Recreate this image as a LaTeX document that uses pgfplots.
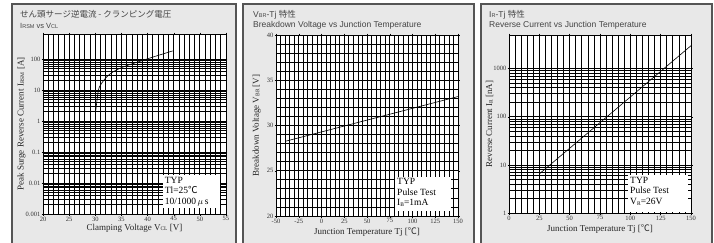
\documentclass[border=0pt]{standalone}
\usepackage{fontspec}
\setmainfont{Liberation Serif}
\newfontfamily\cjk{Noto Sans CJK JP}
\newfontfamily\sans{Liberation Sans}
\usepackage{pgfplots}
\pgfplotsset{compat=1.18}
\definecolor{panelgray}{HTML}{E8E8E8}
\definecolor{bordergray}{HTML}{555555}
\definecolor{titlegray}{HTML}{444444}
\newcommand\sub[1]{\raisebox{-0.15ex}{\fontsize{5.5}{5.5}\selectfont #1}}
\pgfplotsset{chart/.style={scale only axis, anchor=south west,
  axis background/.style={fill=white},
  grid=both,
  major grid style={black,line width=0.75pt},
  minor grid style={black,line width=0.75pt},
  axis line style={black,line width=0.9pt},
  tick align=outside, major tick length=1.5pt, minor tick length=0pt,
  tick style={black,line width=0.4pt},
  ticklabel style={font=\fontsize{6.5}{6.5}\selectfont, text=black!80, inner sep=1pt},
  label style={font=\fontsize{9}{9}\selectfont, text=black!85},
  /pgf/number format/assume math mode=true,
  every axis y label/.append style={anchor=center},
  every axis x label/.append style={anchor=center},
}}
\begin{document}
\begin{tikzpicture}
\useasboundingbox (0pt,0pt) rectangle (714pt,242pt);
\fill[white] (0pt,0pt) rectangle (714pt,242pt);
\foreach \a/\b in {12/236,243/474,481/712} {
  \draw[fill=panelgray, draw=bordergray, line width=1.2pt] (\a pt,-5pt) rectangle (\b pt,238pt);
}
% titles
\node[anchor=base west, inner sep=0, text=titlegray, font=\cjk\fontsize{8.5}{9}\selectfont] at (20pt,225pt) {せん頭サージ逆電流 - クランピング電圧};
\node[anchor=base west, inner sep=0, text=titlegray, font=\sans\fontsize{7.5}{8}\selectfont] at (20pt,214pt) {I\sub{RSM} vs V\sub{CL}};
\node[anchor=base west, inner sep=0, text=titlegray, font=\sans\fontsize{8.5}{9}\selectfont] at (253pt,225pt) {V\sub{BR}-Tj {\cjk 特性}};
\node[anchor=base west, inner sep=0, text=titlegray, font=\sans\fontsize{8.5}{9}\selectfont] at (253pt,215pt) {Breakdown Voltage vs Junction Temperature};
\node[anchor=base west, inner sep=0, text=titlegray, font=\sans\fontsize{8.5}{9}\selectfont] at (489pt,225pt) {I\sub{R}-Tj {\cjk 特性}};
\node[anchor=base west, inner sep=0, text=titlegray, font=\sans\fontsize{8.5}{9}\selectfont] at (489pt,215pt) {Reverse Current vs Junction Temperature};

% Panel 1
\begin{axis}[chart, at={(43pt,28pt)}, width=183pt, height=180pt,
  xmin=20, xmax=55, xtick={20,25,...,55}, minor x tick num=4,
  ymode=log, ymin=0.001, ymax=650,
  ytick={0.001,0.01,0.1,1,10,100}, yticklabels={0.001,0.01,0.1,1,10,100},
  xlabel={Clamping Voltage V\sub{CL} [V]},
  ylabel={Peak Surge Reverse Current I\sub{RSM} [A]},
  xlabel style={at={(axis description cs:0.5,-0.078)}},
  ylabel style={at={(axis description cs:-0.118,0.5)}}]
\addplot[black, line width=0.6pt, smooth] coordinates {(30.1,2.2)(30.6,10)(31.2,16.5)(32.2,27)(33.4,39)(35.3,56)(37.3,73)(41.1,118)(44.8,185)};
\fill[white] (axis description cs:0.656,0.033) rectangle (axis description cs:0.967,0.217);
\node[anchor=north west, align=left, inner sep=0, font=\fontsize{9.5}{10.5}\selectfont] at (axis description cs:0.665,0.207) {TYP\\Tl=25{\cjk ℃}\\10/1000\,$\mu$\,s};
\end{axis}

% Panel 2
\begin{axis}[chart, at={(276pt,26pt)}, width=182pt, height=181pt,
  xmin=-50, xmax=150, xtick={-50,-25,...,150}, minor x tick num=4,
  ymin=20, ymax=40, ytick={20,25,...,40}, minor y tick num=4,
  xlabel={Junction Temperature Tj [{\cjk ℃}]},
  ylabel={Breakdown Voltage V\sub{BR} [V]},
  xlabel style={at={(axis description cs:0.5,-0.088)}},
  ylabel style={at={(axis description cs:-0.106,0.5)}}]
\addplot[black, line width=0.6pt] coordinates {(-40,28.25)(150,33.2)};
\fill[white] (axis description cs:0.654,0.028) rectangle (axis description cs:0.962,0.215);
\node[anchor=north west, align=left, inner sep=0, font=\fontsize{9.5}{10.5}\selectfont] at (axis description cs:0.665,0.207) {TYP\\Pulse Test\\I\sub{B}=1mA};
\end{axis}

% Panel 3
\begin{axis}[chart, at={(509pt,29pt)}, width=182pt, height=178pt,
  xmin=0, xmax=150, xtick={0,25,...,150}, minor x tick num=4,
  ymode=log, ymin=1, ymax=5000,
  ytick={1,10,100,1000}, yticklabels={1,10,100,1000},
  xlabel={Junction Temperature Tj [{\cjk ℃}]},
  ylabel={Reverse Current I\sub{R} [nA]},
  xlabel style={at={(axis description cs:0.5,-0.09)}},
  ylabel style={at={(axis description cs:-0.106,0.5)}}]
\addplot[black, line width=0.6pt] coordinates {(25,6.5)(150,3000)};
\fill[white] (axis description cs:0.654,0.006) rectangle (axis description cs:0.984,0.213);
\node[anchor=north west, align=left, inner sep=0, font=\fontsize{9.5}{10.5}\selectfont] at (axis description cs:0.665,0.202) {TYP\\Pulse Test\\V\sub{R}=26V};
\end{axis}
\end{tikzpicture}
\end{document}
